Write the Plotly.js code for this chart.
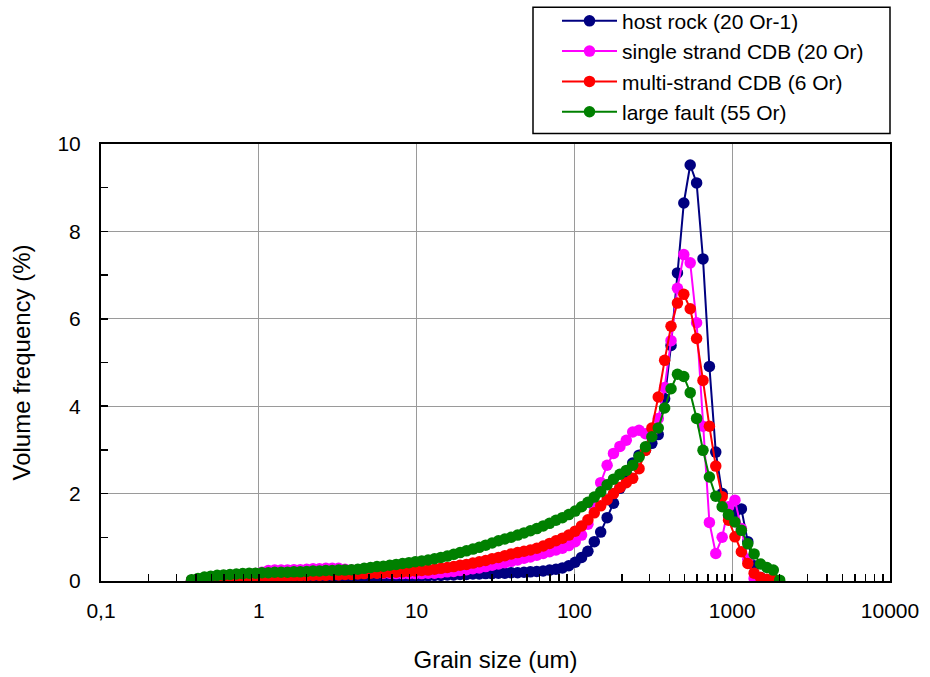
<!DOCTYPE html>
<html>
<head>
<meta charset="utf-8">
<script src="https://cdn.plot.ly/plotly-3.0.1.min.js"></script>
<style>html,body{margin:0;padding:0;background:#fff;}#chart{width:930px;height:677px;}</style>
</head>
<body>
<div id="chart"></div>
<script>
// Grain size channels (um)
const grainSize = [0.375,0.412,0.452,0.496,0.545,0.598,0.657,0.721,0.791,0.869,
  0.953,1.047,1.149,1.261,1.385,1.520,1.669,1.832,2.011,2.207,
  2.423,2.660,2.920,3.205,3.519,3.863,4.240,4.655,5.110,5.610,
  6.158,6.760,7.421,8.147,8.943,9.817,10.78,11.83,12.99,14.26,
  15.65,17.18,18.86,20.70,22.73,24.95,27.39,30.07,33.01,36.24,
  39.78,43.67,47.94,52.62,57.77,63.41,69.61,76.42,83.89,92.09,
  101.1,111.0,121.8,133.7,146.8,161.2,176.9,194.2,213.2,234.1,
  256.9,282.1,309.6,339.9,373.1,409.6,449.7,493.6,541.9,594.9,
  653.0,716.9,786.9,863.9,948.3,1041,1143,1255,1377,1512,
  1660,1822,2000];

const hostRock = [0.01,0.01,0.01,0.01,0.01,0.01,0.02,0.02,0.02,0.02,
  0.02,0.02,0.03,0.03,0.03,0.03,0.04,0.04,0.04,0.05,
  0.05,0.05,0.05,0.06,0.06,0.06,0.07,0.07,0.08,0.08,
  0.09,0.09,0.10,0.10,0.11,0.11,0.12,0.12,0.13,0.13,
  0.14,0.14,0.15,0.15,0.16,0.16,0.17,0.17,0.18,0.18,
  0.19,0.19,0.20,0.21,0.22,0.23,0.25,0.27,0.30,0.35,
  0.43,0.54,0.68,0.90,1.12,1.45,1.78,2.12,2.45,2.70,
  2.88,3.00,3.15,3.35,4.17,5.39,7.05,8.65,9.52,9.11,
  7.37,4.91,2.95,2.00,1.50,1.58,1.65,0.90,0.35,0.08,
  0.00];

const singleStrand = [0.02,0.04,0.06,0.08,0.10,0.12,0.13,0.14,0.15,0.16,
  0.17,0.20,0.24,0.25,0.25,0.25,0.26,0.26,0.27,0.28,
  0.28,0.29,0.29,0.29,0.27,0.25,0.23,0.21,0.20,0.19,
  0.18,0.18,0.17,0.17,0.17,0.17,0.17,0.18,0.18,0.19,
  0.21,0.22,0.24,0.26,0.28,0.30,0.33,0.36,0.39,0.42,
  0.45,0.48,0.52,0.55,0.59,0.63,0.67,0.71,0.75,0.81,
  0.90,1.05,1.30,1.70,2.25,2.65,2.92,3.08,3.22,3.41,
  3.45,3.37,3.40,3.72,4.43,5.50,6.70,7.47,7.28,5.91,
  3.54,1.34,0.63,1.00,1.70,1.85,1.20,0.50,0.06,0.00];

const multiStrand = [0.01,0.03,0.05,0.06,0.07,0.08,0.08,0.09,0.09,0.09,
  0.10,0.10,0.10,0.11,0.11,0.11,0.12,0.12,0.12,0.13,
  0.13,0.13,0.14,0.14,0.15,0.15,0.16,0.17,0.18,0.18,
  0.19,0.20,0.20,0.21,0.22,0.23,0.24,0.25,0.27,0.29,
  0.31,0.33,0.36,0.38,0.41,0.44,0.47,0.51,0.54,0.58,
  0.62,0.65,0.68,0.71,0.75,0.80,0.86,0.92,0.98,1.05,
  1.14,1.26,1.40,1.56,1.72,1.86,2.00,2.14,2.25,2.35,
  2.57,2.99,3.50,4.21,5.05,5.83,6.36,6.56,6.23,5.55,
  4.59,3.54,2.63,1.93,1.39,1.01,0.67,0.40,0.18,0.08,
  0.04,0.02];

const largeFault = [0.03,0.06,0.09,0.11,0.13,0.14,0.15,0.16,0.17,0.18,
  0.18,0.19,0.19,0.20,0.20,0.20,0.21,0.21,0.22,0.23,
  0.23,0.24,0.24,0.25,0.25,0.26,0.27,0.29,0.31,0.33,
  0.34,0.36,0.38,0.40,0.42,0.44,0.46,0.48,0.51,0.54,
  0.57,0.61,0.65,0.69,0.73,0.77,0.82,0.87,0.92,0.96,
  1.00,1.05,1.10,1.15,1.20,1.26,1.32,1.39,1.45,1.52,
  1.60,1.70,1.80,1.92,2.04,2.20,2.33,2.44,2.53,2.65,
  2.84,3.07,3.30,3.50,3.96,4.40,4.73,4.68,4.31,3.72,
  2.99,2.38,1.94,1.70,1.52,1.35,1.16,0.85,0.62,0.39,
  0.31,0.25,0.02];

const seriesNames = ["host rock (20 Or-1)","single strand CDB (20 Or)","multi-strand CDB (6 Or)","large fault (55 Or)"];
const seriesColors = ["#000080","#FF00FF","#FF0000","#008000"];
const seriesData = [hostRock, singleStrand, multiStrand, largeFault];

const xTickVals = [0.1,1,10,100,1000,10000];
const xTickText = ["0,1","1","10","100","1000","10000"];
const yTickVals = [0,2,4,6,8,10];

const FONT = "'Liberation Sans', Arial, sans-serif";

const traces = seriesData.map((ys, i) => ({
  type: "scatter",
  mode: "lines+markers",
  name: seriesNames[i],
  x: grainSize.slice(0, ys.length),
  y: ys,
  line: {color: seriesColors[i], width: 2},
  marker: {color: seriesColors[i], size: 11.5}
}));

const layout = {
  width: 930, height: 677,
  paper_bgcolor: "#fff", plot_bgcolor: "#fff",
  margin: {l: 101, r: 40, t: 143.5, b: 96, pad: 0, autoexpand: false},
  font: {family: FONT, size: 21, color: "#000"},
  showlegend: true,
  legend: {
    x: (557 - 101) / 789, xanchor: "left", y: (581 - 0) / 437.5, yanchor: "top",
    bgcolor: "rgba(0,0,0,0)", borderwidth: 0,
    font: {family: FONT, size: 21, color: "#000"},
    itemwidth: 55, tracegroupgap: 0, itemclick: false
  },
  shapes: [{type: "rect", xref: "paper", yref: "paper", x0: (533 - 101) / 789, x1: 1.0,
    y0: (581 - 133) / 437.5, y1: (581 - 6.5) / 437.5,
    line: {color: "#000", width: 1.5}, fillcolor: "rgba(0,0,0,0)", layer: "above"}],
  xaxis: {
    type: "log", range: [-1, 4],
    tickvals: xTickVals, ticktext: xTickText,
    ticks: "inside", ticklen: 7, tickcolor: "#000", tickwidth: 1.5,
    ticklabelstandoff: 10,
    showgrid: true, gridcolor: "#9a9a9a", gridwidth: 1.3,
    showline: true, linecolor: "#000", linewidth: 2, mirror: true,
    zeroline: false,
    minor: {ticks: "inside", ticklen: 7, tickcolor: "#000", tickwidth: 1.5, dtick: "D1", showgrid: false},
    tickfont: {family: FONT, size: 21, color: "#000"},
    title: {text: "Grain size (um)", font: {family: FONT, size: 24, color: "#000"}, standoff: 30}
  },
  yaxis: {
    range: [0, 10],
    tickvals: yTickVals,
    ticks: "inside", ticklen: 7, tickcolor: "#000", tickwidth: 1.5,
    ticklabelstandoff: 14,
    showgrid: true, gridcolor: "#9a9a9a", gridwidth: 1.3,
    showline: true, linecolor: "#000", linewidth: 2, mirror: true,
    zeroline: false,
    minor: {ticks: "inside", ticklen: 7, tickcolor: "#000", tickwidth: 1.5, dtick: 1, showgrid: false},
    tickfont: {family: FONT, size: 21, color: "#000"},
    title: {text: "Volume frequency (%)", font: {family: FONT, size: 24, color: "#000"}, standoff: 20}
  }
};

Plotly.newPlot("chart", traces, layout, {displayModeBar: false, staticPlot: true});
</script>
</body>
</html>
